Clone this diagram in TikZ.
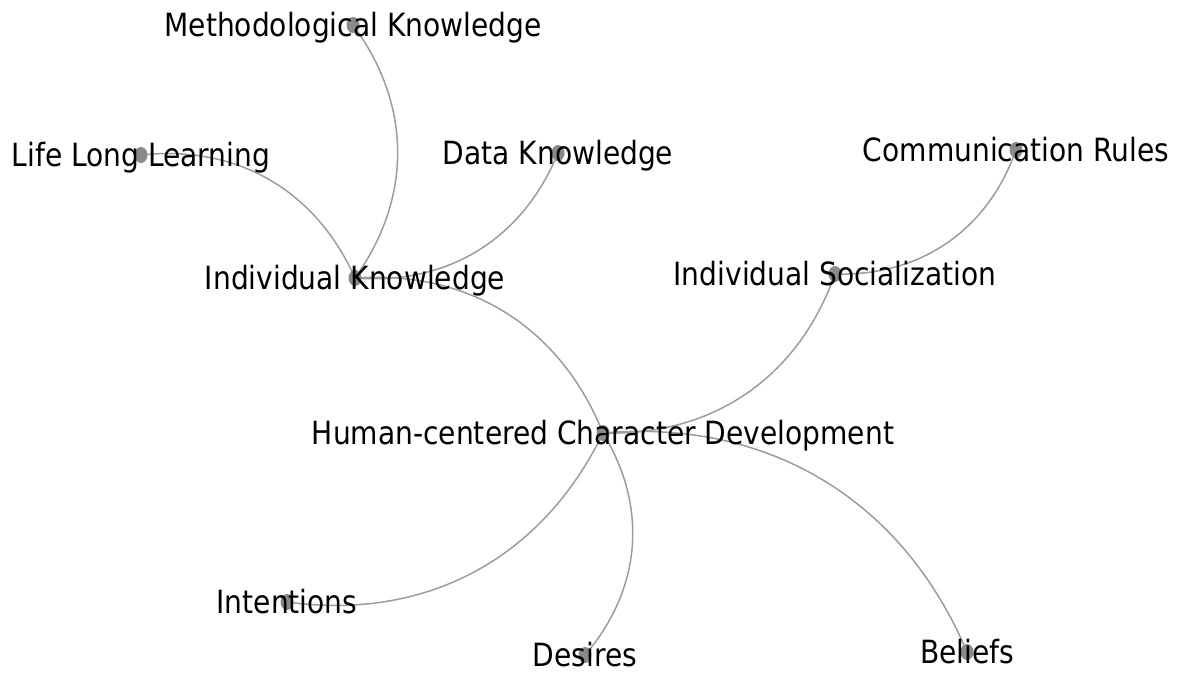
\documentclass[tikz,border=0pt]{standalone}
\usepackage{fontspec}
\setmainfont{DejaVu Sans}[FakeStretch=0.878]
\definecolor{dotgray}{HTML}{8A8A8A}
\definecolor{edgegray}{HTML}{9C9C9C}

\begin{document}
\begin{tikzpicture}[x=1pt,y=-1pt,
    edge/.style={draw=edgegray, line width=1.5pt},
    dot/.style={fill=dotgray},
    lbl/.style={anchor=base, yshift=-11.7pt, inner sep=0pt, font=\fontsize{32}{38}\selectfont}]
        \useasboundingbox (0,0) rectangle (1180,673);
        
        % positions of the concepts
        \coordinate (hcd) at (603,433);
        \coordinate (ik) at (355,278);
        \coordinate (is) at (835,274);
        \coordinate (mk) at (353,25);
        \coordinate (lll) at (141,155);
        \coordinate (dk) at (558,153);
        \coordinate (cr) at (1016,150);
        \coordinate (int) at (287,602);
        \coordinate (des) at (585,655);
        \coordinate (bel) at (967,652);
        
        % Curved edges
        \draw [edge] (ik) to [bend right=36] (mk);
        \draw [edge] (lll) to [bend left=36] (ik);
        \draw [edge] (ik) to [bend right=36] (dk);
        \draw [edge] (is) to [bend right=36] (cr);
        \draw [edge] (ik) to [bend left=36] (hcd);
        \draw [edge] (hcd) to [bend right=36] (is);
        \draw [edge] (hcd) to [bend left=36] (int);
        \draw [edge] (hcd) to [bend left=36] (des);
        \draw [edge] (hcd) to [bend left=36] (bel);
        
        % Dots
        \foreach \p in {hcd,ik,is,mk,lll,dk,cr,int,des,bel}
            \fill [dot] (\p) ellipse [x radius=6.5, y radius=8];
        
        % Text Node
        \node [lbl] (hcdtext) at (hcd) {Human-centered Character Development};
        % Text Node
        \node [lbl] (iktext) at (ik) {Individual Knowledge};
        % Text Node
        \node [lbl] (istext) at (is) {Individual Socialization};
        % Text Node
        \node [lbl] (mktext) at (mk) {Methodological Knowledge};
        % Text Node
        \node [lbl] (llltext) at (lll) {Life Long Learning};
        % Text Node
        \node [lbl] (dktext) at (dk) {Data Knowledge};
        % Text Node
        \node [lbl] (crtext) at (cr) {Communication Rules};
        % Text Node
        \node [lbl] (inttext) at (int) {Intentions};
        % Text Node
        \node [lbl] (destext) at (des) {Desires};
        % Text Node
        \node [lbl] (beltext) at (bel) {Beliefs};
        
\end{tikzpicture}
\end{document}
